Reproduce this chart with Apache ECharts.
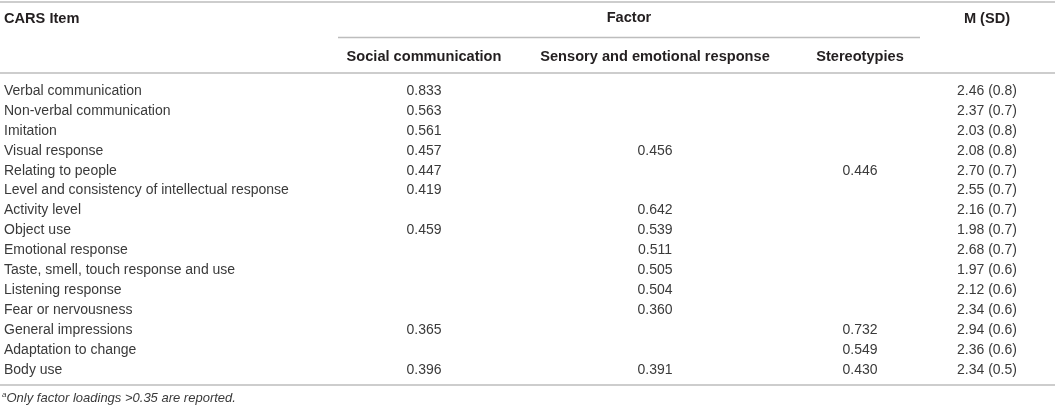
<!DOCTYPE html>
<html>
<head>
<meta charset="utf-8">
<script src="https://cdn.jsdelivr.net/npm/echarts@6/dist/echarts.min.js"></script>
<style>
  html, body { margin: 0; padding: 0; background: #fff; }
  #chart { width: 1055px; height: 410px; }
</style>
</head>
<body>
<div id="chart"></div>
<script>
// table contents
const items = [
  'Verbal communication',
  'Non-verbal communication',
  'Imitation',
  'Visual response',
  'Relating to people',
  'Level and consistency of intellectual response',
  'Activity level',
  'Object use',
  'Emotional response',
  'Taste, smell, touch response and use',
  'Listening response',
  'Fear or nervousness',
  'General impressions',
  'Adaptation to change',
  'Body use'
];
const socialComm = [0.833, 0.563, 0.561, 0.457, 0.447, 0.419, null, 0.459, null, null, null, null, 0.365, null, 0.396];
const sensoryEmo = [null, null, null, 0.456, null, null, 0.642, 0.539, 0.511, 0.505, 0.504, 0.360, null, null, 0.391];
const stereotypies = [null, null, null, null, 0.446, null, null, null, null, null, null, null, 0.732, 0.549, 0.430];
const means = [2.46, 2.37, 2.03, 2.08, 2.70, 2.55, 2.16, 1.98, 2.68, 1.97, 2.12, 2.34, 2.94, 2.36, 2.34];
const sds = [0.8, 0.7, 0.8, 0.8, 0.7, 0.7, 0.7, 0.7, 0.7, 0.6, 0.6, 0.6, 0.6, 0.6, 0.5];
const factorNames = ['Social communication', 'Sensory and emotional response', 'Stereotypies'];

// layout (x positions on a 0..1055 axis)
const colX = { item: 4, social: 424, sensory: 655, stereo: 860, msd: 987 };
const FONT = '"Liberation Sans", Arial, Helvetica, sans-serif';
const bodyFont = '14px ' + FONT;
const headFont = 'bold 14.6px ' + FONT;
const bodyColor = '#3a3a3a';
const headColor = '#231f20';
const ruleColor = '#bdbdbd';

const chart = echarts.init(document.getElementById('chart'));

const fmt = v => (v == null ? '' : v.toFixed(3));

function cellText(x, y, text, align) {
  return {
    type: 'text',
    style: {
      x: x, y: y, text: text,
      font: bodyFont, fill: bodyColor,
      textAlign: align, textVerticalAlign: 'middle',
      align: align, verticalAlign: 'middle'
    }
  };
}

function rule(x1, y, x2) {
  return {
    type: 'line',
    shape: { x1: x1, y1: y, x2: x2, y2: y },
    style: { stroke: ruleColor, lineWidth: 1.6 },
    silent: true
  };
}

function headText(x, y, text, align) {
  return {
    type: 'text',
    x: x, y: y,
    style: {
      text: text, font: headFont, fill: headColor,
      textAlign: align, textVerticalAlign: 'middle',
      align: align, verticalAlign: 'middle'
    }
  };
}

const option = {
  animation: false,
  grid: { left: 0, right: 0, top: 81, height: 299 },
  xAxis: { type: 'value', min: 0, max: 1055, show: false },
  yAxis: {
    type: 'category',
    inverse: true,
    show: false,
    data: items.map((_, i) => i)
  },
  graphic: [
    rule(0, 2, 1055),
    rule(338, 37.5, 920),
    rule(0, 73, 1055),
    rule(0, 385, 1055),
    headText(colX.item, 19, 'CARS Item', 'left'),
    headText(629, 18, 'Factor', 'center'),
    headText(colX.msd, 19, 'M (SD)', 'center'),
    headText(colX.social, 57, factorNames[0], 'center'),
    headText(colX.sensory, 57, factorNames[1], 'center'),
    headText(colX.stereo, 57, factorNames[2], 'center'),
    {
      type: 'text',
      x: 2, y: 398,
      style: {
        text: '{sup|a}{it|Only factor loadings >0.35 are reported.}',
        textVerticalAlign: 'middle', verticalAlign: 'middle',
        rich: {
          sup: { font: 'italic 8px ' + FONT, fill: bodyColor, verticalAlign: 'top', padding: [0, 0, 6, 0] },
          it: { font: 'italic 13px ' + FONT, fill: bodyColor }
        }
      }
    }
  ],
  series: [{
    type: 'custom',
    silent: true,
    data: items.map((_, i) => [0, i]),
    renderItem: function (params, api) {
      const i = api.value(1);
      const y = api.coord([0, i])[1];
      const x = k => api.coord([colX[k], i])[0];
      return {
        type: 'group',
        children: [
          cellText(x('item'), y, items[i], 'left'),
          cellText(x('social'), y, fmt(socialComm[i]), 'center'),
          cellText(x('sensory'), y, fmt(sensoryEmo[i]), 'center'),
          cellText(x('stereo'), y, fmt(stereotypies[i]), 'center'),
          cellText(x('msd'), y, means[i].toFixed(2) + ' (' + sds[i].toFixed(1) + ')', 'center')
        ]
      };
    }
  }]
};

chart.setOption(option);
</script>
</body>
</html>
